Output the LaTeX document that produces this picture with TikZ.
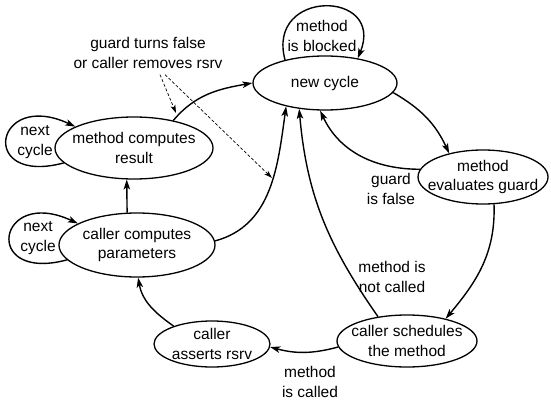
\documentclass[tikz,border=0pt]{standalone}
\usepackage{fontspec}
\setmainfont{Liberation Sans}
\usetikzlibrary{shapes.geometric,arrows.meta}
\newcommand\dgfs{\fontsize{15.5}{19.5}\selectfont}
\begin{document}
\begin{tikzpicture}[x=1pt,y=1pt,
  st/.style={ellipse,draw,line width=1.3pt,inner xsep=-20pt,inner ysep=-8pt,align=center,font=\dgfs},
  lab/.style={inner sep=0pt,align=center,font=\dgfs},
  arr/.style={line width=1.4pt,-{Stealth[length=10pt,width=6.5pt,inset=2.5pt]}},
  dsh/.style={line width=0.7pt,dash pattern=on 3pt off 2pt,-{Stealth[length=8pt,width=5pt,inset=2pt]}}
]
\useasboundingbox (0,0) rectangle (551,402);
% states
\node[st,minimum width=144pt,minimum height=54pt] (nc) at (325,319) {new cycle};
\node[st,minimum width=130pt,minimum height=54pt] (eg) at (483,225) {method\\evaluates guard};
\node[st,minimum width=140pt,minimum height=52pt] (cs) at (407,61) {caller schedules\\the method};
\node[st,minimum width=116pt,minimum height=46pt] (ca) at (212,58) {caller\\asserts rsrv};
\node[st,minimum width=156pt,minimum height=64pt] (cp) at (137,157) {caller computes\\parameters};
\node[st,minimum width=158pt,minimum height=62pt] (mr) at (134,254) {method computes\\result};
% labels
\node[lab] (lbl) at (148,349) {guard turns false\\or caller removes rsrv};
\node[lab] (lblock) at (322,366) {method\\is blocked};
\node[lab] (lnext1) at (35,260) {next\\cycle};
\node[lab] (lnext2) at (38,164) {next\\cycle};
\node[lab] (lfalse) at (391,213) {guard\\is false};
\node[lab] (lnot) at (392,125) {method is\\not called};
\node[lab] (lcalled) at (310,20) {method\\is called};
% connectors
\draw[arr] (nc.-8) to[out=-30,in=115] (eg.145);
\draw[arr] (eg.173) to[out=180,in=-65] (nc.-100);
\draw[arr] (eg.-68) to[out=-88,in=50] (cs.30);
\draw[arr] (cs.140) to[out=125,in=-85] (nc.-135);
\draw[arr] (cs.185) to[out=195,in=-15] (ca.-3);
\draw[arr] (ca.155) to[out=145,in=-80] (cp.-88);
\draw[arr] (cp.107) -- (mr.-103);
\draw[arr] (cp.3) to[out=15,in=-98] (nc.-149);
\draw[arr] (mr.35) to[out=50,in=190] (nc.180);
% loops
\draw[arr] (mr.-168) to[out=195,in=155,looseness=6] (mr.160);
\draw[arr] (cp.-168) to[out=195,in=155,looseness=6] (cp.160);
\draw[arr] (nc.150) to[out=105,in=68,looseness=2.6] (nc.37);
% dashed pointers
\coordinate (d1) at (176,289);
\coordinate (d2) at (272,224);
\draw[dsh] ([shift={(12,-6)}]lbl.south) -- (d1);
\draw[dsh] ([shift={(17,-6)}]lbl.south) -- (d2);
\end{tikzpicture}
\end{document}
